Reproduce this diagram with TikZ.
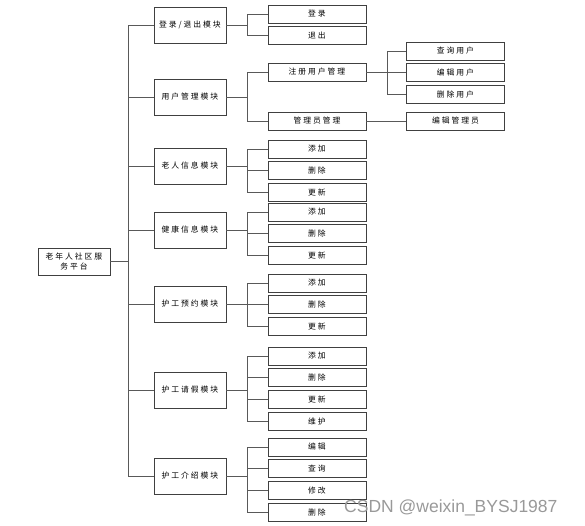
\documentclass[tikz,border=0pt]{standalone}
\usepackage{fontspec}
\setmainfont[LetterSpace=25]{Noto Sans CJK SC}
\newfontfamily\wmfont{Liberation Sans}
\usetikzlibrary{positioning}

\begin{document}
\begin{tikzpicture}[
  x=1pt, y=-1pt,
  node distance=3pt,
  box/.style={draw=black!75, line width=0.8pt, fill=white, inner sep=0pt,
              align=center, font=\fontsize{7.8}{9.5}\selectfont},
  root/.style={box, minimum width=72pt, minimum height=27pt},
  module/.style={box, minimum width=72pt, minimum height=36pt},
  leaf/.style={box, minimum width=98pt, minimum height=18pt},
  link/.style={draw=black!65, line width=0.8pt}
]
\useasboundingbox (0,0) rectangle (585,526);

% root and modules
\node[root] (platform) at (74,261.5) {老年人社区服\\务平台};
\node[module] (login)  at (190,25)  {登录/退出模块};
\node[module] (user)   at (190,97)  {用户管理模块};
\node[module] (elder)  at (190,166) {老人信息模块};
\node[module] (health) at (190,230) {健康信息模块};
\node[module] (book)   at (190,304) {护工预约模块};
\node[module] (leave)  at (190,390) {护工请假模块};
\node[module] (intro)  at (190,476) {护工介绍模块};

% leaves
\node[leaf] (loginA) at (317,14) {登录};
\node[leaf, below=of loginA] (loginB) {退出};

\node[leaf] (reguser) at (317,72) {注册用户管理};
\node[leaf] (admin)   at (317,121) {管理员管理};
\node[leaf] (regA) at (455.5,51) {查询用户};
\node[leaf, below=of regA] (regB) {编辑用户};
\node[leaf, below=of regB] (regC) {删除用户};
\node[leaf] (adminA) at (455.5,121) {编辑管理员};

\node[leaf] (elderA) at (317,149) {添加};
\node[leaf, below=of elderA] (elderB) {删除};
\node[leaf, below=of elderB] (elderC) {更新};

\node[leaf] (healthA) at (317,212) {添加};
\node[leaf, below=of healthA] (healthB) {删除};
\node[leaf, below=of healthB] (healthC) {更新};

\node[leaf] (bookA) at (317,283) {添加};
\node[leaf, below=of bookA] (bookB) {删除};
\node[leaf, below=of bookB] (bookC) {更新};

\node[leaf] (leaveA) at (317,356) {添加};
\node[leaf, below=of leaveA] (leaveB) {删除};
\node[leaf, below=of leaveB] (leaveC) {更新};
\node[leaf, below=of leaveC] (leaveD) {维护};

\node[leaf] (introA) at (317,447) {编辑};
\node[leaf, below=of introA] (introB) {查询};
\node[leaf, below=of introB] (introC) {修改};
\node[leaf, below=of introC] (introD) {删除};

% connectors
\coordinate (trunk) at (128,261.5);
\draw[link] (platform) -- (trunk);
\foreach \m in {login,user,elder,health,book,leave,intro}
  \draw[link] (trunk) |- (\m.west);

\foreach \m/\leaves in {login/{loginA,loginB},
                        user/{reguser,admin},
                        elder/{elderA,elderB,elderC},
                        health/{healthA,healthB,healthC},
                        book/{bookA,bookB,bookC},
                        leave/{leaveA,leaveB,leaveC,leaveD},
                        intro/{introA,introB,introC,introD}} {
  \coordinate (\m-fork) at (247,0 |- \m.east);
  \draw[link] (\m.east) -- (\m-fork);
  \foreach \l in \leaves
    \draw[link] (\m-fork) |- (\l.west);
}

\coordinate (reg-fork) at (387,0 |- reguser.east);
\draw[link] (reguser.east) -- (reg-fork);
\foreach \l in {regA,regB,regC}
  \draw[link] (reg-fork) |- (\l.west);
\draw[link] (admin) -- (adminA);

% watermark
\node[font=\wmfont\fontsize{17.5}{20}\selectfont, text=black!40, anchor=west,
      inner sep=0pt]
  (mark) at (344,508) {CSDN @weixin\_BYSJ1987};
\end{tikzpicture}
\end{document}
